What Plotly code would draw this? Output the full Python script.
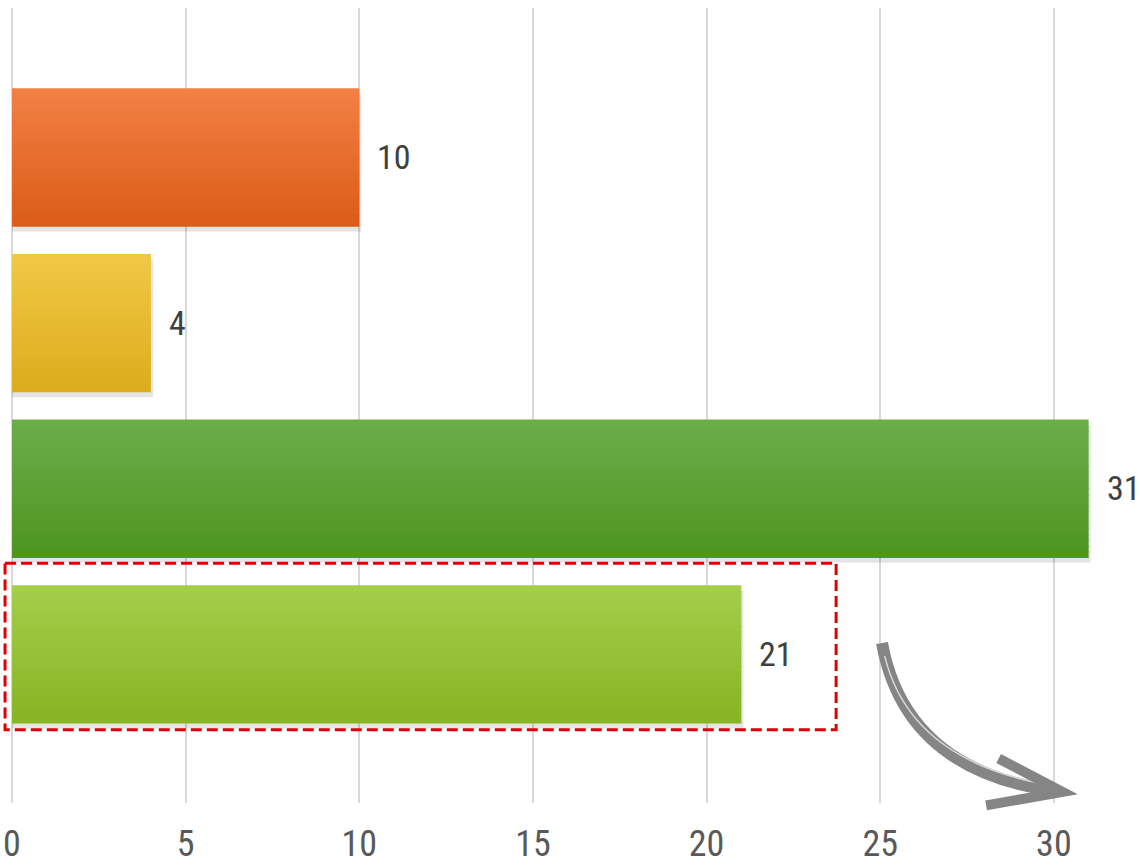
import plotly.graph_objects as go

# ---- data ----
categories = ["A", "B", "C", "D"]
values = [10, 4, 31, 21]
top_colors = ["#F28045", "#F1C845", "#6BAE4A", "#A3CF4B"]
bottom_colors = ["#DB5C17", "#DCAC1C", "#4D9520", "#87B423"]
tick_vals = [0, 5, 10, 15, 20, 25, 30]
tick_text = ["0", "5", "10", "15", "20", "25", "30"]

FONT = "Liberation Sans Narrow, Arial Narrow, Roboto Condensed, Open Sans, sans-serif"
W = 0.83
N = 24
ypos = list(range(len(categories)))


def hex2rgb(h):
    h = h.lstrip("#")
    return tuple(int(h[i:i + 2], 16) for i in (0, 2, 4))


def mix(c1, c2, t):
    a, b = hex2rgb(c1), hex2rgb(c2)
    return "rgb(%d,%d,%d)" % tuple(round(a[i] + (b[i] - a[i]) * t) for i in range(3))


fig = go.Figure()

# drop shadow
fig.add_trace(go.Bar(
    y=ypos, x=[v + 0.06 for v in values], orientation="h",
    width=W, offset=-W / 2 + 0.035,
    marker=dict(color="rgba(0,0,0,0.10)", line=dict(width=0)),
    hoverinfo="skip", showlegend=False))

# gradient strips (top -> bottom)
sw = W / N
for k in range(N):
    t = (k + 0.5) / N
    fig.add_trace(go.Bar(
        y=ypos, x=values, orientation="h",
        width=sw * 1.15, offset=-W / 2 + k * sw,
        marker=dict(color=[mix(top_colors[i], bottom_colors[i], t) for i in range(len(values))],
                    line=dict(width=0)),
        hoverinfo="skip", showlegend=False))

# value labels
for i, v in enumerate(values):
    fig.add_annotation(x=v, y=ypos[i], xref="x", yref="y", text=str(v),
                       showarrow=False, xanchor="left", yanchor="middle", xshift=16,
                       font=dict(family=FONT, size=34, color="#404040"))

# red dashed highlight around last bar
fig.add_shape(type="rect", xref="x", yref="y",
              x0=-0.2, x1=23.73, y0=2.452, y1=3.458,
              line=dict(color="#E00000", width=3, dash="11px,5px"), layer="above")

# hand-drawn-like gray arrow (paper coordinates)
fig.add_shape(type="path", xref="paper", yref="paper",
              path="M 0.7737,0.2013 Q 0.7939,0.0415 0.9250,0.0150",
              line=dict(color="#858585", width=12))
fig.add_shape(type="path", xref="paper", yref="paper",
              path="M 0.7760,0.1850 Q 0.7980,0.0560 0.9150,0.0240",
              line=dict(color="#D8D8D8", width=1.5))
fig.add_shape(type="path", xref="paper", yref="paper",
              path="M 0.8760,0.0560 L 0.9320,0.0140 L 0.8650,-0.0030",
              line=dict(color="#858585", width=10))

fig.update_layout(
    width=1140, height=865,
    margin=dict(l=0, r=0, t=8, b=62),
    paper_bgcolor="white", plot_bgcolor="white",
    barmode="overlay", showlegend=False,
    xaxis=dict(range=[-0.3455, 32.48], tickvals=tick_vals, ticktext=tick_text,
               showgrid=True, gridcolor="#D9D9D9", gridwidth=1.5,
               zeroline=False, showline=False, automargin=False,
               ticks="outside", ticklen=9, tickcolor="rgba(0,0,0,0)",
               tickfont=dict(family=FONT, size=36, color="#595959")),
    yaxis=dict(range=[3.9, -0.9], visible=False, showgrid=False, zeroline=False,
               automargin=False),
)

fig.write_html("out.html")
